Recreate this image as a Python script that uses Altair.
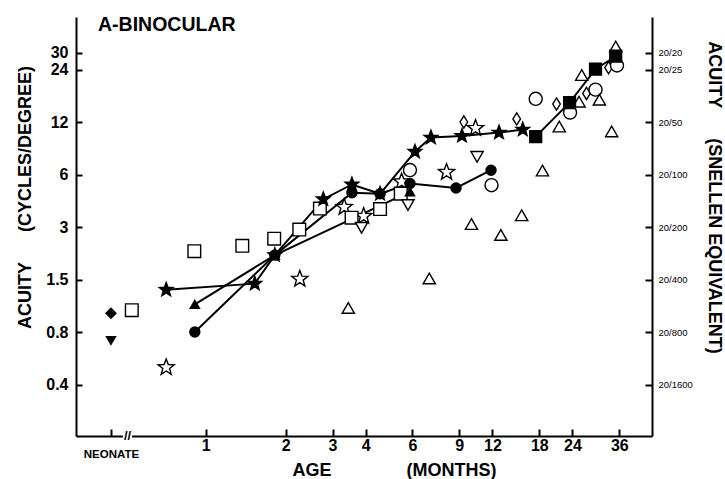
import math
import altair as alt
import pandas as pd

# ---------------- data (age in months, acuity in cycles/degree) ----------------
NEONATE = 0.44  # axis position standing for "neonate"

star_line_age = [0.71, 1.53, 1.82, 2.77, 3.55, 4.53, 6.13, 7.04, 9.21, 12.7, 15.6]
star_line_acu = [1.31, 1.42, 2.07, 4.33, 5.26, 4.65, 8.11, 9.77, 9.99, 10.44, 10.86]
circle_line_age = [0.91, 1.82, 3.55, 4.53, 5.87, 8.75, 11.85]
circle_line_acu = [0.75, 2.07, 4.72, 4.65, 5.33, 5.02, 6.35]
tri_line_age = [0.91, 1.82, 5.87]
tri_line_acu = [1.08, 2.07, 4.78]
square_line_age = [17.45, 23.4, 29.3, 34.9]
square_line_acu = [9.89, 15.5, 24.1, 28.6]

neo_diamond_acu = [0.96]
neo_tridown_acu = [0.67]

open_star_age = [0.71, 2.26, 3.32, 3.93, 5.46, 8.06, 10.36]
open_star_acu = [0.47, 1.51, 3.90, 3.46, 5.46, 6.19, 11.05]
open_diamond_age = [9.36, 14.8, 20.9, 27.1, 32.8]
open_diamond_acu = [12.0, 12.5, 15.2, 17.5, 24.6]
open_square_age = [0.527, 0.906, 1.373, 1.81, 2.25, 2.69, 3.54, 4.53, 5.42]
open_square_acu = [1.00, 2.18, 2.34, 2.57, 2.90, 3.83, 3.39, 3.80, 4.66]
open_circle_age = [5.87, 11.9, 17.45, 23.5, 29.3, 35.3]
open_circle_acu = [6.36, 5.21, 16.3, 13.6, 18.4, 25.3]
open_tri_age = [3.44, 6.94, 10.0, 12.9, 15.45, 18.5, 21.4, 25.4, 26.0, 30.3, 33.7, 34.9]
open_tri_acu = [1.03, 1.52, 3.12, 2.70, 3.50, 6.32, 11.3, 15.7, 22.3, 16.1, 10.6, 32.5]
open_tridown_age = [3.86, 5.77, 10.5]
open_tridown_acu = [2.97, 4.01, 7.58]

acuity_ticks = [30, 24, 12, 6, 3, 1.5, 0.75, 0.375]
acuity_labels = ["30", "24", "12", "6", "3", "1.5", "0.8", "0.4"]
snellen_labels = ["20/20", "20/25", "20/50", "20/100", "20/200", "20/400", "20/800", "20/1600"]
age_ticks = [NEONATE, 1, 2, 3, 4, 6, 9, 12, 18, 24, 36]
age_labels = ["NEONATE", "1", "2", "3", "4", "6", "9", "12", "18", "24", "36"]

# ---------------- tables ----------------
def rows(name, ages, acus):
    return [{"series": name, "age": a, "acuity": v} for a, v in zip(ages, acus)]

line_df = pd.DataFrame(
    rows("star_f", star_line_age, star_line_acu)
    + rows("circle_f", circle_line_age, circle_line_acu)
    + rows("tri_f", tri_line_age, tri_line_acu)
    + rows("square_f", square_line_age, square_line_acu)
)
point_df = pd.DataFrame(
    rows("open_star", open_star_age, open_star_acu)
    + rows("open_diamond", open_diamond_age, open_diamond_acu)
    + rows("open_square", open_square_age, open_square_acu)
    + rows("open_circle", open_circle_age, open_circle_acu)
    + rows("open_tri", open_tri_age, open_tri_acu)
    + rows("open_tridown", open_tridown_age, open_tridown_acu)
    + rows("neo_diamond", [NEONATE], neo_diamond_acu)
    + rows("neo_tridown", [NEONATE], neo_tridown_acu)
    + rows("star_f", star_line_age, star_line_acu)
    + rows("circle_f", circle_line_age, circle_line_acu)
    + rows("tri_f", tri_line_age, tri_line_acu)
    + rows("square_f", square_line_age, square_line_acu)
)

# ---------------- symbol shapes ----------------
def star_path(inner=0.42):
    pts = []
    for i in range(10):
        r = 1.0 if i % 2 == 0 else inner
        a = math.radians(-90 + 36 * i)
        pts.append(f"{r*math.cos(a):.3f},{r*math.sin(a):.3f}")
    return "M" + "L".join(pts) + "Z"

STAR = star_path()
NARROW_DIAMOND = "M0,-1L0.62,0L0,1L-0.62,0Z"

series_dom = ["open_star", "open_diamond", "open_square", "open_circle", "open_tri",
              "open_tridown", "neo_diamond", "neo_tridown", "star_f", "circle_f",
              "tri_f", "square_f"]
shape_rng = [STAR, NARROW_DIAMOND, "square", "circle", "triangle-up",
             "triangle-down", "diamond", "triangle-down", STAR, "circle",
             "triangle-up", "square"]
fill_rng = ["white"] * 6 + ["black"] * 6
size_rng = [290, 150, 160, 170, 150, 150, 100, 80, 210, 100, 85, 140]


def label_expr(vals, labels):
    expr = "''"
    for v, l in reversed(list(zip(vals, labels))):
        lab = l if l.startswith("[") else f"'{l}'"
        expr = f"abs(datum.value-{v})<1e-6 ? {lab} : ({expr})"
    return expr


FONT = "Liberation Sans"
NB = "\u00a0"

x_scale = alt.Scale(type="log", domain=[0.325, 47.8], nice=False, zero=False)
y_scale = alt.Scale(type="log", domain=[0.19, 48], nice=False, zero=False)

x_label_list = ["['', 'NEONATE']"] + age_labels[1:]
x_axis = alt.Axis(
    values=age_ticks,
    labelExpr=label_expr(age_ticks, x_label_list),
    labelFontSize={"condition": {"test": "datum.value < 0.5", "value": 11.5}, "value": 16},
    labelLineHeight=11,
    labelPadding=8,
    tickSize=alt.ExprRef(expr="-7"),
    title="AGE" + NB * 15 + "(MONTHS)",
    titleX=318, titleY=34, titleBaseline="middle",
    labelFlush=False, labelOverlap=False,
)

y_left = alt.Axis(
    orient="left",
    values=acuity_ticks,
    labelExpr=label_expr(acuity_ticks, acuity_labels),
    labelFontSize=16, labelPadding=14,
    tickSize=alt.ExprRef(expr="-6"),
    title="ACUITY" + NB * 6 + "(CYCLES/DEGREE)",
    titleX=-51, titleY=180, titleBaseline="middle", titleAngle=270,
    labelOverlap=False,
)
y_right = alt.Axis(
    orient="right",
    values=acuity_ticks,
    labelExpr=label_expr(acuity_ticks, snellen_labels),
    labelFontSize=9.5, labelFontWeight="normal", labelPadding=13,
    tickSize=alt.ExprRef(expr="-7"),
    title="ACUITY" + NB * 6 + "(SNELLEN EQUIVALENT)",
    titleX=61, titleY=180, titleBaseline="middle", titleAngle=90,
    labelOverlap=False,
)

lines = alt.Chart(line_df).mark_line(color="black", strokeWidth=2).encode(
    x=alt.X("age:Q", scale=x_scale, axis=x_axis),
    y=alt.Y("acuity:Q", scale=y_scale, axis=y_left),
    detail="series:N",
)

points = alt.Chart(point_df).mark_point(filled=True, stroke="black", strokeWidth=1.4, opacity=1).encode(
    x=alt.X("age:Q", scale=x_scale, axis=x_axis),
    y=alt.Y("acuity:Q", scale=y_scale, axis=y_right),
    shape=alt.Shape("series:N", scale=alt.Scale(domain=series_dom, range=shape_rng), legend=None),
    fill=alt.Fill("series:N", scale=alt.Scale(domain=series_dom, range=fill_rng), legend=None),
    size=alt.Size("series:N", scale=alt.Scale(type="ordinal", domain=series_dom, range=size_rng), legend=None),
)

brk_df = pd.DataFrame({"a0": [0.488], "a1": [0.528], "am": [0.508], "acuity": [0.19], "t": ["//"]})
brk_gap = alt.Chart(brk_df).mark_rule(color="white", strokeWidth=6).encode(
    x=alt.X("a0:Q", scale=x_scale, axis=x_axis), x2="a1:Q",
    y=alt.Y("acuity:Q", scale=y_scale, axis=None),
)
brk_txt = alt.Chart(brk_df).mark_text(font=FONT, fontSize=13, fontWeight="bold",
                                      baseline="middle", align="center").encode(
    x=alt.X("am:Q", scale=x_scale, axis=x_axis),
    y=alt.Y("acuity:Q", scale=y_scale, axis=None),
    text="t:N",
)

title_df = pd.DataFrame({"t": ["A-BINOCULAR"]})
panel_title = alt.Chart(title_df).mark_text(font=FONT, fontSize=19.5, fontWeight="bold",
                                            align="left", baseline="middle").encode(
    x=alt.value(22), y=alt.value(8), text="t:N",
)

chart = alt.layer(lines, points, brk_gap, brk_txt, panel_title).resolve_axis(
    y="independent"
).properties(
    width=576, height=419,
    autosize=alt.AutoSizeParams(type="none"),
    padding={"left": 76, "top": 17, "right": 73, "bottom": 43},
    background="white",
).configure_view(stroke=None).configure_axis(
    grid=False,
    domainColor="black", domainWidth=2,
    tickColor="black", tickWidth=2,
    labelColor="black", labelFont=FONT, labelFontWeight="bold",
    titleColor="black", titleFont=FONT, titleFontSize=18, titleFontWeight="bold",
)

chart.save("out.html", embed_options={"renderer": "svg", "actions": False})
